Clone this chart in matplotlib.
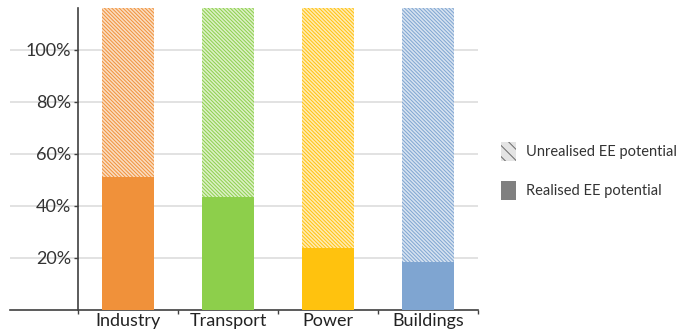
import matplotlib.pyplot as plt
from matplotlib.patches import Patch
from matplotlib.colors import to_rgb

plt.rcParams['font.family'] = ['Lato', 'DejaVu Sans']
plt.rcParams['hatch.linewidth'] = 0.7

sectors = ['Industry', 'Transport', 'Power', 'Buildings']
realised = [51, 43.5, 24, 18.5]
visible_top = 116   # bars run off the top of the cropped picture
colors = ['#F0913A', '#8DCF4B', '#FFC20E', '#7FA5D1']
yticks = [20, 40, 60, 80, 100]

unrealised = [visible_top - r for r in realised]

def tint(c, amt=0.68):
    r, g, b = to_rgb(c)
    return (r + (1 - r) * amt, g + (1 - g) * amt, b + (1 - b) * amt)

fig = plt.figure(figsize=(6.82, 3.35), dpi=100)
ax = fig.add_axes([10 / 682, 25 / 335, 468 / 682, 302 / 335])

x = list(range(len(sectors)))
ax.bar(x, realised, width=0.52, color=colors, linewidth=0, zorder=3)
for i in x:
    ax.bar(i, unrealised[i], bottom=realised[i], width=0.52,
           facecolor=tint(colors[i]), edgecolor=colors[i], hatch='\\' * 9,
           linewidth=0, zorder=3)

ax.set_xlim(-1.18, 3.5)
ax.set_ylim(0, visible_top)

for s in ['top', 'right']:
    ax.spines[s].set_visible(False)
ax.spines['left'].set_position(('data', -0.5))
for s in ['left', 'bottom']:
    ax.spines[s].set_color('#404040')
    ax.spines[s].set_linewidth(1.2)

ax.set_yticks(yticks)
ax.set_yticklabels([f'{v}%' for v in yticks], fontsize=13, color='#333333')
ax.tick_params(axis='y', length=3, width=1, color='#404040', pad=2)
ax.yaxis.grid(True, color='#dddddd', linewidth=1.2, zorder=0)

ax.set_xticks(x)
ax.set_xticklabels(sectors, fontsize=13, color='#222222')
ax.tick_params(axis='x', length=0, pad=2)
ax.set_xticks([i - 0.5 for i in range(len(sectors) + 1)], minor=True)
ax.tick_params(axis='x', which='minor', length=3, width=1, color='#404040')

handles = [
    Patch(facecolor='#e4e4e4', edgecolor='#6a6a6a', hatch='\\\\\\', linewidth=0,
          label='Unrealised EE potential'),
    Patch(facecolor='#808080', linewidth=0, label='Realised EE potential'),
]
fig.legend(handles=handles, loc='center left', bbox_to_anchor=(488 / 682, 0.49),
           frameon=False, fontsize=10.5, handlelength=1.0, handleheight=1.6,
           labelspacing=1.4, handletextpad=0.7, labelcolor='#333333')

fig.savefig('out.png', dpi=100)
